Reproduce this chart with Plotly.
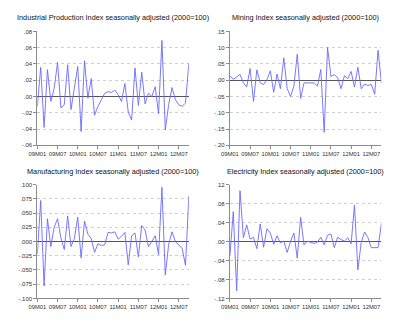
import plotly.graph_objects as go

# ---- data ----
periods = [f"{y}M{m:02d}" for y in range(2009, 2013) for m in range(1, 13)][:46]
tick_periods = ["2009M01", "2009M07", "2010M01", "2010M07", "2011M01", "2011M07", "2012M01", "2012M07"]
tick_labels = ["09M01", "09M07", "10M01", "10M07", "11M01", "11M07", "12M01", "12M07"]

industrial = [-0.012, 0.036, -0.038, 0.033, -0.006, 0.010, 0.042, -0.014, -0.010, 0.039,
              -0.016, 0.010, 0.037, -0.043, 0.044, -0.002, 0.022, -0.023, -0.012, -0.004,
              0.004, 0.006, 0.005, 0.008, 0.002, -0.006, 0.016, -0.019, -0.029, 0.035,
              -0.011, 0.030, -0.009, 0.004, 0.000, 0.012, -0.021, 0.069, -0.041, -0.010,
              0.011, -0.004, -0.010, -0.012, -0.008, 0.041]
mining = [0.013, 0.003, 0.010, 0.018, -0.008, -0.020, 0.036, -0.065, 0.032, -0.008,
          -0.013, 0.002, 0.029, -0.037, 0.019, -0.026, 0.069, -0.025, -0.050, -0.018,
          0.080, -0.056, -0.008, -0.008, -0.007, -0.008, -0.018, 0.033, -0.160, 0.101,
          0.012, 0.017, 0.008, -0.026, 0.014, 0.005, 0.027, -0.021, 0.040, -0.026,
          -0.012, -0.016, -0.013, -0.043, 0.092, -0.008]
manufacturing = [-0.022, 0.072, -0.078, 0.040, -0.009, 0.025, 0.040, 0.006, -0.014, 0.045,
                 -0.009, 0.005, 0.043, -0.029, 0.036, 0.013, 0.005, -0.019, -0.004, -0.007,
                 -0.006, 0.016, 0.015, 0.017, 0.004, 0.009, 0.016, -0.041, 0.010, 0.015,
                 -0.027, 0.028, 0.020, -0.009, 0.000, 0.010, -0.023, 0.095, -0.059, -0.005,
                 0.017, 0.000, -0.006, -0.012, -0.042, 0.080]
electricity = [-0.030, 0.063, -0.104, 0.107, 0.008, 0.035, 0.005, 0.009, -0.015, 0.037,
               -0.012, 0.027, 0.018, -0.006, 0.012, -0.003, 0.001, -0.023, 0.000, 0.018,
               -0.035, 0.051, -0.007, 0.001, -0.002, -0.004, -0.001, 0.009, -0.007, 0.013,
               0.016, -0.013, 0.009, 0.004, 0.001, 0.008, -0.005, 0.077, -0.060, -0.002,
               0.020, 0.008, -0.013, -0.013, -0.013, 0.038]

titles = ["Industrial Production Index seasonally adjusted (2000=100)",
          "Mining Index seasonally adjusted (2000=100)",
          "Manufacturing Index seasonally adjusted (2000=100)",
          "Electricity Index seasonally adjusted (2000=100)"]

ip_ticks = [-0.06, -0.04, -0.02, 0.0, 0.02, 0.04, 0.06, 0.08]
ip_text = ["-.06", "-.04", "-.02", ".00", ".02", ".04", ".06", ".08"]
mi_ticks = [-0.20, -0.15, -0.10, -0.05, 0.0, 0.05, 0.10, 0.15]
mi_text = ["-.20", "-.15", "-.10", "-.05", ".00", ".05", ".10", ".15"]
mf_ticks = [-0.100, -0.075, -0.050, -0.025, 0.0, 0.025, 0.050, 0.075, 0.100]
mf_text = ["-.100", "-.075", "-.050", "-.025", ".000", ".025", ".050", ".075", ".100"]
el_ticks = [-0.12, -0.08, -0.04, 0.0, 0.04, 0.08, 0.12]
el_text = ["-.12", "-.08", "-.04", ".00", ".04", ".08", ".12"]

series = [industrial, mining, manufacturing, electricity]
yticks = [(ip_ticks, ip_text), (mi_ticks, mi_text), (mf_ticks, mf_text), (el_ticks, el_text)]

# ---- layout geometry (pixels) ----
W, H = 400, 324
boxes = [(29, 184, 29, 145), (226, 381, 29, 145), (29, 184, 185, 301), (226, 381, 185, 301)]
title_y = [15, 15, 172, 172]

fig = go.Figure()
FONT = "Liberation Sans, Arial, sans-serif"
line_color = "#6a6aff"
axis_color = "#8c8c8c"

for i, (ys, (tv, tt), box) in enumerate(zip(series, yticks, boxes)):
    n = i + 1
    xa = "x" if n == 1 else f"x{n}"
    ya = "y" if n == 1 else f"y{n}"
    fig.add_trace(go.Scatter(x=periods, y=ys, mode="lines",
                             line=dict(color=line_color, width=0.9),
                             xaxis=xa, yaxis=ya, showlegend=False, hoverinfo="skip"))
    x0, x1, yt, yb = box
    xkey = "xaxis" if n == 1 else f"xaxis{n}"
    ykey = "yaxis" if n == 1 else f"yaxis{n}"
    fig.layout[xkey] = dict(
        domain=[x0 / W, x1 / W], anchor=ya, type="category",
        range=[0, len(periods) - 1],
        tickvals=tick_periods, ticktext=tick_labels, tickangle=0,
        showgrid=False, zeroline=False, showline=True, linecolor=axis_color, linewidth=1,
        ticks="outside", ticklen=3, tickcolor=axis_color,
        tickfont=dict(family=FONT, size=5.8, color="#333333"),
    )
    fig.layout[ykey] = dict(
        domain=[1 - yb / H, 1 - yt / H], anchor=xa,
        range=[tv[0], tv[-1]], tickvals=tv, ticktext=tt,
        showgrid=True, gridcolor="#cfcfcf", griddash="dot", gridwidth=1,
        zeroline=True, zerolinecolor="#555555", zerolinewidth=1,
        showline=True, linecolor=axis_color, linewidth=1,
        ticks="outside", ticklen=3, tickcolor=axis_color,
        tickfont=dict(family=FONT, size=6, color="#333333"),
    )
    fig.add_annotation(text=titles[i], x=(x0 + x1) / 2 / W, y=1 - title_y[i] / H,
                       xref="paper", yref="paper", showarrow=False,
                       xanchor="center", yanchor="middle",
                       font=dict(family=FONT, size=7.3, color="#111111"))

fig.update_layout(width=W, height=H, margin=dict(l=0, r=0, t=0, b=0),
                  paper_bgcolor="white", plot_bgcolor="white")
fig.write_html("out.html")
